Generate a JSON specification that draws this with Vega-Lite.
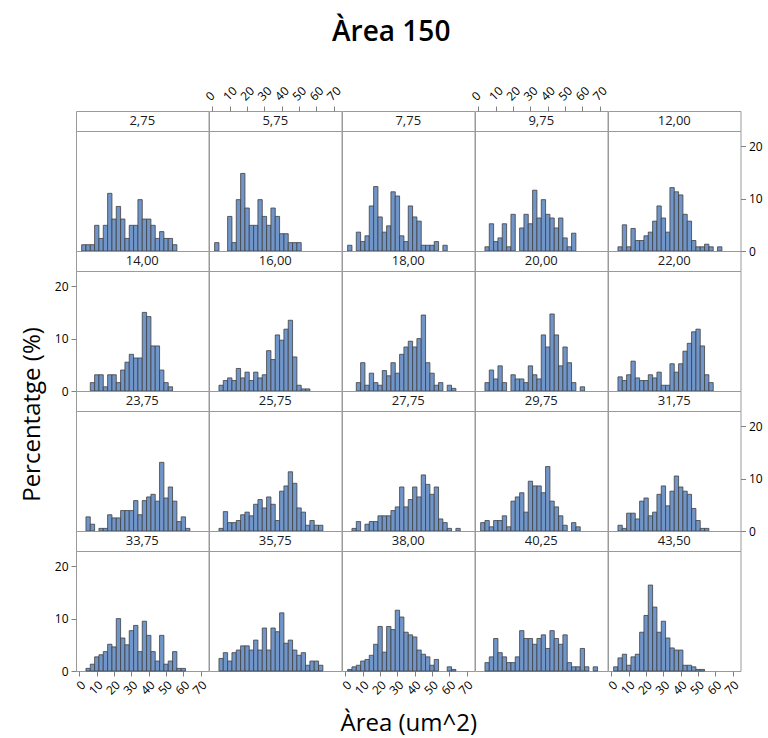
{
"$schema": "https://vega.github.io/schema/vega-lite/v6.json",
"padding": {"left": 19, "top": 18, "right": 5, "bottom": 5},
"title": {"text": "Àrea 150", "fontSize": 28, "fontWeight": 600, "font": "Open Sans", "color": "#000000", "anchor": "middle", "offset": 37},
"columns": 5,
"spacing": 0,
"bounds": "flush",
"config": {
  "view": {"stroke": "#9a9a9a", "strokeWidth": 1},
  "font": "Open Sans",
  "axis": {"labelFont": "Open Sans", "labelFontSize": 12, "labelColor": "#000000", "tickColor": "#808080", "domain": false, "grid": false, "tickSize": 5, "labelPadding": 3, "labelOverlap": false, "titleFont": "Open Sans", "titleColor": "#000000", "titleFontWeight": "normal"},
  "rect": {"fill": "#7095c9", "stroke": "#404040", "strokeWidth": 0.8},
  "text": {"fontSize": 13, "font": "Open Sans", "color": "#1a1a1a"}
},
"concat": [
{"width":132.5,"height":20,"data":{"values":[{"p":"2,75"}]},"mark":"text","encoding":{"text":{"field":"p"},"x":{"datum":36.25,"type":"quantitative","scale":{"domain":[-2,74.5],"nice":false,"zero":false},"axis":null}}},
{"width":132.5,"height":20,"data":{"values":[{"p":"5,75"}]},"mark":"text","encoding":{"text":{"field":"p"},"x":{"datum":36.25,"type":"quantitative","scale":{"domain":[-2,74.5],"nice":false,"zero":false},"axis":{"orient":"top","values":[0,10,20,30,40,50,60,70],"labelAngle":-45,"title":null}}}},
{"width":132.5,"height":20,"data":{"values":[{"p":"7,75"}]},"mark":"text","encoding":{"text":{"field":"p"},"x":{"datum":36.25,"type":"quantitative","scale":{"domain":[-2,74.5],"nice":false,"zero":false},"axis":null}}},
{"width":132.5,"height":20,"data":{"values":[{"p":"9,75"}]},"mark":"text","encoding":{"text":{"field":"p"},"x":{"datum":36.25,"type":"quantitative","scale":{"domain":[-2,74.5],"nice":false,"zero":false},"axis":{"orient":"top","values":[0,10,20,30,40,50,60,70],"labelAngle":-45,"title":null}}}},
{"width":132.5,"height":20,"data":{"values":[{"p":"12,00"}]},"mark":"text","encoding":{"text":{"field":"p"},"x":{"datum":36.25,"type":"quantitative","scale":{"domain":[-2,74.5],"nice":false,"zero":false},"axis":null}}},

{"width":132.5,"height":120,"data":{"values":[
{"lo":1.25,"hi":3.75,"v":1.2},{"lo":3.75,"hi":6.25,"v":1.2},{"lo":6.25,"hi":8.75,"v":1.2},{"lo":8.75,"hi":11.25,"v":4.9},{"lo":11.25,"hi":13.75,"v":2.4},{"lo":13.75,"hi":16.25,"v":4.9},{"lo":16.25,"hi":18.75,"v":11.0},{"lo":18.75,"hi":21.25,"v":6.1},{"lo":21.25,"hi":23.75,"v":8.5},{"lo":23.75,"hi":26.25,"v":6.1},{"lo":26.25,"hi":28.75,"v":2.4},{"lo":28.75,"hi":31.25,"v":4.9},{"lo":31.25,"hi":33.75,"v":4.9},{"lo":33.75,"hi":36.25,"v":9.8},{"lo":36.25,"hi":38.75,"v":6.1},{"lo":38.75,"hi":41.25,"v":6.1},{"lo":41.25,"hi":43.75,"v":4.9},{"lo":43.75,"hi":46.25,"v":2.4},{"lo":46.25,"hi":48.75,"v":3.7},{"lo":48.75,"hi":51.25,"v":2.4},{"lo":51.25,"hi":53.75,"v":2.4},{"lo":53.75,"hi":56.25,"v":1.2}
]},"mark":"rect","encoding":{"x":{"field":"lo","type":"quantitative","scale":{"domain":[-2,74.5],"nice":false,"zero":false},"axis":null},"x2":{"field":"hi"},"y":{"field":"v","type":"quantitative","scale":{"domain":[0,22.9],"nice":false},"axis":null},"y2":{"datum":0}}},

{"width":132.5,"height":120,"data":{"values":[
{"lo":1.25,"hi":3.75,"v":1.6},{"lo":8.75,"hi":11.25,"v":6.6},{"lo":11.25,"hi":13.75,"v":1.6},{"lo":13.75,"hi":16.25,"v":9.8},{"lo":16.25,"hi":18.75,"v":14.8},{"lo":18.75,"hi":21.25,"v":8.2},{"lo":21.25,"hi":23.75,"v":4.9},{"lo":23.75,"hi":26.25,"v":4.9},{"lo":26.25,"hi":28.75,"v":9.8},{"lo":28.75,"hi":31.25,"v":6.6},{"lo":31.25,"hi":33.75,"v":4.9},{"lo":33.75,"hi":36.25,"v":8.2},{"lo":36.25,"hi":38.75,"v":6.6},{"lo":38.75,"hi":41.25,"v":3.3},{"lo":41.25,"hi":43.75,"v":3.3},{"lo":43.75,"hi":46.25,"v":1.6},{"lo":46.25,"hi":48.75,"v":1.6},{"lo":48.75,"hi":51.25,"v":1.6}
]},"mark":"rect","encoding":{"x":{"field":"lo","type":"quantitative","scale":{"domain":[-2,74.5],"nice":false,"zero":false},"axis":null},"x2":{"field":"hi"},"y":{"field":"v","type":"quantitative","scale":{"domain":[0,22.9],"nice":false},"axis":null},"y2":{"datum":0}}},

{"width":132.5,"height":120,"data":{"values":[
{"lo":1.25,"hi":3.75,"v":1.1},{"lo":6.25,"hi":8.75,"v":3.6},{"lo":8.75,"hi":11.25,"v":1.8},{"lo":11.25,"hi":13.75,"v":2.9},{"lo":13.75,"hi":16.25,"v":8.6},{"lo":16.25,"hi":18.75,"v":12.3},{"lo":18.75,"hi":21.25,"v":6.5},{"lo":21.25,"hi":23.75,"v":3.6},{"lo":23.75,"hi":26.25,"v":4.8},{"lo":26.25,"hi":28.75,"v":11.3},{"lo":28.75,"hi":31.25,"v":10.5},{"lo":31.25,"hi":33.75,"v":2.9},{"lo":33.75,"hi":36.25,"v":1.8},{"lo":36.25,"hi":38.75,"v":8.6},{"lo":38.75,"hi":41.25,"v":6.5},{"lo":41.25,"hi":43.75,"v":5.7},{"lo":43.75,"hi":46.25,"v":1.1},{"lo":46.25,"hi":48.75,"v":1.1},{"lo":48.75,"hi":51.25,"v":1.1},{"lo":51.25,"hi":53.75,"v":1.8},{"lo":56.25,"hi":58.75,"v":1.1}
]},"mark":"rect","encoding":{"x":{"field":"lo","type":"quantitative","scale":{"domain":[-2,74.5],"nice":false,"zero":false},"axis":null},"x2":{"field":"hi"},"y":{"field":"v","type":"quantitative","scale":{"domain":[0,22.9],"nice":false},"axis":null},"y2":{"datum":0}}},

{"width":132.5,"height":120,"data":{"values":[
{"lo":3.75,"hi":6.25,"v":0.8},{"lo":6.25,"hi":8.75,"v":5.2},{"lo":8.75,"hi":11.25,"v":1.8},{"lo":11.25,"hi":13.75,"v":2.5},{"lo":13.75,"hi":16.25,"v":5.2},{"lo":16.25,"hi":18.75,"v":0.8},{"lo":18.75,"hi":21.25,"v":7.0},{"lo":23.75,"hi":26.25,"v":4.4},{"lo":26.25,"hi":28.75,"v":7.0},{"lo":28.75,"hi":31.25,"v":5.2},{"lo":31.25,"hi":33.75,"v":11.6},{"lo":33.75,"hi":36.25,"v":6.3},{"lo":36.25,"hi":38.75,"v":9.8},{"lo":38.75,"hi":41.25,"v":7.0},{"lo":41.25,"hi":43.75,"v":6.3},{"lo":43.75,"hi":46.25,"v":4.4},{"lo":46.25,"hi":48.75,"v":6.3},{"lo":48.75,"hi":51.25,"v":2.5},{"lo":51.25,"hi":53.75,"v":0.8},{"lo":53.75,"hi":56.25,"v":3.4}
]},"mark":"rect","encoding":{"x":{"field":"lo","type":"quantitative","scale":{"domain":[-2,74.5],"nice":false,"zero":false},"axis":null},"x2":{"field":"hi"},"y":{"field":"v","type":"quantitative","scale":{"domain":[0,22.9],"nice":false},"axis":null},"y2":{"datum":0}}},

{"width":132.5,"height":120,"data":{"values":[
{"lo":3.75,"hi":6.25,"v":0.8},{"lo":6.25,"hi":8.75,"v":5.0},{"lo":8.75,"hi":11.25,"v":0.8},{"lo":11.25,"hi":13.75,"v":4.3},{"lo":13.75,"hi":16.25,"v":2.0},{"lo":16.25,"hi":18.75,"v":2.0},{"lo":18.75,"hi":21.25,"v":2.9},{"lo":21.25,"hi":23.75,"v":3.6},{"lo":23.75,"hi":26.25,"v":5.7},{"lo":26.25,"hi":28.75,"v":8.6},{"lo":28.75,"hi":31.25,"v":6.3},{"lo":31.25,"hi":33.75,"v":3.6},{"lo":33.75,"hi":36.25,"v":12.1},{"lo":36.25,"hi":38.75,"v":11.3},{"lo":38.75,"hi":41.25,"v":10.7},{"lo":41.25,"hi":43.75,"v":7.0},{"lo":43.75,"hi":46.25,"v":5.7},{"lo":46.25,"hi":48.75,"v":2.0},{"lo":48.75,"hi":51.25,"v":0.8},{"lo":51.25,"hi":53.75,"v":0.8},{"lo":53.75,"hi":56.25,"v":1.3},{"lo":56.25,"hi":58.75,"v":0.8},{"lo":61.25,"hi":63.75,"v":0.8}
]},"mark":"rect","encoding":{"x":{"field":"lo","type":"quantitative","scale":{"domain":[-2,74.5],"nice":false,"zero":false},"axis":null},"x2":{"field":"hi"},"y":{"field":"v","type":"quantitative","scale":{"domain":[0,22.9],"nice":false},"axis":{"orient":"right","values":[0,10,20],"title":null}},"y2":{"datum":0}}},

{"width":132.5,"height":20,"data":{"values":[{"p":"14,00"}]},"mark":"text","encoding":{"text":{"field":"p"},"x":{"datum":36.25,"type":"quantitative","scale":{"domain":[-2,74.5],"nice":false,"zero":false},"axis":null}}},
{"width":132.5,"height":20,"data":{"values":[{"p":"16,00"}]},"mark":"text","encoding":{"text":{"field":"p"},"x":{"datum":36.25,"type":"quantitative","scale":{"domain":[-2,74.5],"nice":false,"zero":false},"axis":null}}},
{"width":132.5,"height":20,"data":{"values":[{"p":"18,00"}]},"mark":"text","encoding":{"text":{"field":"p"},"x":{"datum":36.25,"type":"quantitative","scale":{"domain":[-2,74.5],"nice":false,"zero":false},"axis":null}}},
{"width":132.5,"height":20,"data":{"values":[{"p":"20,00"}]},"mark":"text","encoding":{"text":{"field":"p"},"x":{"datum":36.25,"type":"quantitative","scale":{"domain":[-2,74.5],"nice":false,"zero":false},"axis":null}}},
{"width":132.5,"height":20,"data":{"values":[{"p":"22,00"}]},"mark":"text","encoding":{"text":{"field":"p"},"x":{"datum":36.25,"type":"quantitative","scale":{"domain":[-2,74.5],"nice":false,"zero":false},"axis":null}}},

{"width":132.5,"height":120,"data":{"values":[
{"lo":6.25,"hi":8.75,"v":1.6},{"lo":8.75,"hi":11.25,"v":3.1},{"lo":11.25,"hi":13.75,"v":3.1},{"lo":13.75,"hi":16.25,"v":0.8},{"lo":16.25,"hi":18.75,"v":3.1},{"lo":18.75,"hi":21.25,"v":3.1},{"lo":21.25,"hi":23.75,"v":1.6},{"lo":23.75,"hi":26.25,"v":4.0},{"lo":26.25,"hi":28.75,"v":5.5},{"lo":28.75,"hi":31.25,"v":7.0},{"lo":31.25,"hi":33.75,"v":6.3},{"lo":33.75,"hi":36.25,"v":6.3},{"lo":36.25,"hi":38.75,"v":15.0},{"lo":38.75,"hi":41.25,"v":14.2},{"lo":41.25,"hi":43.75,"v":8.6},{"lo":43.75,"hi":46.25,"v":8.6},{"lo":46.25,"hi":48.75,"v":4.0},{"lo":48.75,"hi":51.25,"v":1.6},{"lo":51.25,"hi":53.75,"v":0.8}
]},"mark":"rect","encoding":{"x":{"field":"lo","type":"quantitative","scale":{"domain":[-2,74.5],"nice":false,"zero":false},"axis":null},"x2":{"field":"hi"},"y":{"field":"v","type":"quantitative","scale":{"domain":[0,22.9],"nice":false},"axis":{"orient":"left","values":[0,10,20],"title":"Percentatge (%)","titleFontSize":24,"titleY":143,"titlePadding":10}},"y2":{"datum":0}}},

{"width":132.5,"height":120,"data":{"values":[
{"lo":3.75,"hi":6.25,"v":1.1},{"lo":6.25,"hi":8.75,"v":2.0},{"lo":8.75,"hi":11.25,"v":2.5},{"lo":11.25,"hi":13.75,"v":2.0},{"lo":13.75,"hi":16.25,"v":4.3},{"lo":16.25,"hi":18.75,"v":2.5},{"lo":18.75,"hi":21.25,"v":3.6},{"lo":21.25,"hi":23.75,"v":2.0},{"lo":23.75,"hi":26.25,"v":3.6},{"lo":26.25,"hi":28.75,"v":2.5},{"lo":28.75,"hi":31.25,"v":3.1},{"lo":31.25,"hi":33.75,"v":7.7},{"lo":33.75,"hi":36.25,"v":6.0},{"lo":36.25,"hi":38.75,"v":10.7},{"lo":38.75,"hi":41.25,"v":9.7},{"lo":41.25,"hi":43.75,"v":11.8},{"lo":43.75,"hi":46.25,"v":13.5},{"lo":46.25,"hi":48.75,"v":6.5},{"lo":48.75,"hi":51.25,"v":1.1},{"lo":51.25,"hi":53.75,"v":0.4},{"lo":53.75,"hi":56.25,"v":0.4}
]},"mark":"rect","encoding":{"x":{"field":"lo","type":"quantitative","scale":{"domain":[-2,74.5],"nice":false,"zero":false},"axis":null},"x2":{"field":"hi"},"y":{"field":"v","type":"quantitative","scale":{"domain":[0,22.9],"nice":false},"axis":null},"y2":{"datum":0}}},

{"width":132.5,"height":120,"data":{"values":[
{"lo":6.25,"hi":8.75,"v":1.6},{"lo":8.75,"hi":11.25,"v":5.4},{"lo":11.25,"hi":13.75,"v":1.1},{"lo":13.75,"hi":16.25,"v":3.4},{"lo":16.25,"hi":18.75,"v":1.6},{"lo":18.75,"hi":21.25,"v":1.1},{"lo":21.25,"hi":23.75,"v":3.9},{"lo":23.75,"hi":26.25,"v":2.9},{"lo":26.25,"hi":28.75,"v":5.4},{"lo":28.75,"hi":31.25,"v":3.4},{"lo":31.25,"hi":33.75,"v":7.0},{"lo":33.75,"hi":36.25,"v":8.4},{"lo":36.25,"hi":38.75,"v":9.5},{"lo":38.75,"hi":41.25,"v":8.4},{"lo":41.25,"hi":43.75,"v":10.0},{"lo":43.75,"hi":46.25,"v":14.5},{"lo":46.25,"hi":48.75,"v":5.4},{"lo":48.75,"hi":51.25,"v":3.4},{"lo":51.25,"hi":53.75,"v":1.1},{"lo":53.75,"hi":56.25,"v":1.6},{"lo":58.75,"hi":61.25,"v":1.1},{"lo":61.25,"hi":63.75,"v":0.5}
]},"mark":"rect","encoding":{"x":{"field":"lo","type":"quantitative","scale":{"domain":[-2,74.5],"nice":false,"zero":false},"axis":null},"x2":{"field":"hi"},"y":{"field":"v","type":"quantitative","scale":{"domain":[0,22.9],"nice":false},"axis":null},"y2":{"datum":0}}},

{"width":132.5,"height":120,"data":{"values":[
{"lo":3.75,"hi":6.25,"v":1.6},{"lo":6.25,"hi":8.75,"v":4.0},{"lo":8.75,"hi":11.25,"v":2.3},{"lo":11.25,"hi":13.75,"v":4.8},{"lo":13.75,"hi":16.25,"v":1.6},{"lo":18.75,"hi":21.25,"v":3.1},{"lo":21.25,"hi":23.75,"v":2.3},{"lo":23.75,"hi":26.25,"v":2.3},{"lo":26.25,"hi":28.75,"v":1.6},{"lo":28.75,"hi":31.25,"v":4.8},{"lo":31.25,"hi":33.75,"v":3.1},{"lo":33.75,"hi":36.25,"v":2.3},{"lo":36.25,"hi":38.75,"v":10.7},{"lo":38.75,"hi":41.25,"v":8.4},{"lo":41.25,"hi":43.75,"v":14.7},{"lo":43.75,"hi":46.25,"v":10.7},{"lo":46.25,"hi":48.75,"v":4.8},{"lo":48.75,"hi":51.25,"v":8.4},{"lo":51.25,"hi":53.75,"v":5.4},{"lo":53.75,"hi":56.25,"v":1.6},{"lo":58.75,"hi":61.25,"v":0.8}
]},"mark":"rect","encoding":{"x":{"field":"lo","type":"quantitative","scale":{"domain":[-2,74.5],"nice":false,"zero":false},"axis":null},"x2":{"field":"hi"},"y":{"field":"v","type":"quantitative","scale":{"domain":[0,22.9],"nice":false},"axis":null},"y2":{"datum":0}}},

{"width":132.5,"height":120,"data":{"values":[
{"lo":3.75,"hi":6.25,"v":2.7},{"lo":6.25,"hi":8.75,"v":2.0},{"lo":8.75,"hi":11.25,"v":3.1},{"lo":11.25,"hi":13.75,"v":5.7},{"lo":13.75,"hi":16.25,"v":2.5},{"lo":16.25,"hi":18.75,"v":2.0},{"lo":18.75,"hi":21.25,"v":2.0},{"lo":21.25,"hi":23.75,"v":3.1},{"lo":23.75,"hi":26.25,"v":2.5},{"lo":26.25,"hi":28.75,"v":3.6},{"lo":28.75,"hi":31.25,"v":1.1},{"lo":31.25,"hi":33.75,"v":1.1},{"lo":33.75,"hi":36.25,"v":5.2},{"lo":36.25,"hi":38.75,"v":3.6},{"lo":38.75,"hi":41.25,"v":5.2},{"lo":41.25,"hi":43.75,"v":7.6},{"lo":43.75,"hi":46.25,"v":9.1},{"lo":46.25,"hi":48.75,"v":11.3},{"lo":48.75,"hi":51.25,"v":11.8},{"lo":51.25,"hi":53.75,"v":8.6},{"lo":53.75,"hi":56.25,"v":3.1},{"lo":56.25,"hi":58.75,"v":1.6}
]},"mark":"rect","encoding":{"x":{"field":"lo","type":"quantitative","scale":{"domain":[-2,74.5],"nice":false,"zero":false},"axis":null},"x2":{"field":"hi"},"y":{"field":"v","type":"quantitative","scale":{"domain":[0,22.9],"nice":false},"axis":null},"y2":{"datum":0}}},

{"width":132.5,"height":20,"data":{"values":[{"p":"23,75"}]},"mark":"text","encoding":{"text":{"field":"p"},"x":{"datum":36.25,"type":"quantitative","scale":{"domain":[-2,74.5],"nice":false,"zero":false},"axis":null}}},
{"width":132.5,"height":20,"data":{"values":[{"p":"25,75"}]},"mark":"text","encoding":{"text":{"field":"p"},"x":{"datum":36.25,"type":"quantitative","scale":{"domain":[-2,74.5],"nice":false,"zero":false},"axis":null}}},
{"width":132.5,"height":20,"data":{"values":[{"p":"27,75"}]},"mark":"text","encoding":{"text":{"field":"p"},"x":{"datum":36.25,"type":"quantitative","scale":{"domain":[-2,74.5],"nice":false,"zero":false},"axis":null}}},
{"width":132.5,"height":20,"data":{"values":[{"p":"29,75"}]},"mark":"text","encoding":{"text":{"field":"p"},"x":{"datum":36.25,"type":"quantitative","scale":{"domain":[-2,74.5],"nice":false,"zero":false},"axis":null}}},
{"width":132.5,"height":20,"data":{"values":[{"p":"31,75"}]},"mark":"text","encoding":{"text":{"field":"p"},"x":{"datum":36.25,"type":"quantitative","scale":{"domain":[-2,74.5],"nice":false,"zero":false},"axis":null}}},

{"width":132.5,"height":120,"data":{"values":[
{"lo":3.75,"hi":6.25,"v":2.7},{"lo":6.25,"hi":8.75,"v":1.3},{"lo":11.25,"hi":13.75,"v":0.5},{"lo":13.75,"hi":16.25,"v":0.5},{"lo":16.25,"hi":18.75,"v":3.1},{"lo":18.75,"hi":21.25,"v":2.5},{"lo":21.25,"hi":23.75,"v":2.5},{"lo":23.75,"hi":26.25,"v":3.9},{"lo":26.25,"hi":28.75,"v":3.9},{"lo":28.75,"hi":31.25,"v":3.9},{"lo":31.25,"hi":33.75,"v":5.8},{"lo":33.75,"hi":36.25,"v":3.1},{"lo":36.25,"hi":38.75,"v":5.8},{"lo":38.75,"hi":41.25,"v":6.5},{"lo":41.25,"hi":43.75,"v":7.0},{"lo":43.75,"hi":46.25,"v":5.7},{"lo":46.25,"hi":48.75,"v":13.1},{"lo":48.75,"hi":51.25,"v":6.3},{"lo":51.25,"hi":53.75,"v":8.4},{"lo":53.75,"hi":56.25,"v":5.7},{"lo":56.25,"hi":58.75,"v":1.8},{"lo":58.75,"hi":61.25,"v":2.7},{"lo":61.25,"hi":63.75,"v":0.5}
]},"mark":"rect","encoding":{"x":{"field":"lo","type":"quantitative","scale":{"domain":[-2,74.5],"nice":false,"zero":false},"axis":null},"x2":{"field":"hi"},"y":{"field":"v","type":"quantitative","scale":{"domain":[0,22.9],"nice":false},"axis":null},"y2":{"datum":0}}},

{"width":132.5,"height":120,"data":{"values":[
{"lo":3.75,"hi":6.25,"v":0.5},{"lo":6.25,"hi":8.75,"v":3.7},{"lo":8.75,"hi":11.25,"v":1.6},{"lo":11.25,"hi":13.75,"v":1.6},{"lo":13.75,"hi":16.25,"v":2.0},{"lo":16.25,"hi":18.75,"v":3.1},{"lo":18.75,"hi":21.25,"v":3.6},{"lo":21.25,"hi":23.75,"v":2.9},{"lo":23.75,"hi":26.25,"v":5.1},{"lo":26.25,"hi":28.75,"v":6.0},{"lo":28.75,"hi":31.25,"v":4.4},{"lo":31.25,"hi":33.75,"v":6.5},{"lo":33.75,"hi":36.25,"v":5.1},{"lo":36.25,"hi":38.75,"v":2.0},{"lo":38.75,"hi":41.25,"v":7.6},{"lo":41.25,"hi":43.75,"v":8.6},{"lo":43.75,"hi":46.25,"v":11.3},{"lo":46.25,"hi":48.75,"v":9.1},{"lo":48.75,"hi":51.25,"v":4.4},{"lo":51.25,"hi":53.75,"v":3.6},{"lo":53.75,"hi":56.25,"v":1.1},{"lo":56.25,"hi":58.75,"v":2.0},{"lo":58.75,"hi":61.25,"v":1.1},{"lo":61.25,"hi":63.75,"v":1.1}
]},"mark":"rect","encoding":{"x":{"field":"lo","type":"quantitative","scale":{"domain":[-2,74.5],"nice":false,"zero":false},"axis":null},"x2":{"field":"hi"},"y":{"field":"v","type":"quantitative","scale":{"domain":[0,22.9],"nice":false},"axis":null},"y2":{"datum":0}}},

{"width":132.5,"height":120,"data":{"values":[
{"lo":3.75,"hi":6.25,"v":0.5},{"lo":6.25,"hi":8.75,"v":1.8},{"lo":11.25,"hi":13.75,"v":1.3},{"lo":13.75,"hi":16.25,"v":1.8},{"lo":16.25,"hi":18.75,"v":1.8},{"lo":18.75,"hi":21.25,"v":2.9},{"lo":21.25,"hi":23.75,"v":2.9},{"lo":23.75,"hi":26.25,"v":2.9},{"lo":26.25,"hi":28.75,"v":3.9},{"lo":28.75,"hi":31.25,"v":4.6},{"lo":31.25,"hi":33.75,"v":8.4},{"lo":33.75,"hi":36.25,"v":4.6},{"lo":36.25,"hi":38.75,"v":6.0},{"lo":38.75,"hi":41.25,"v":8.4},{"lo":41.25,"hi":43.75,"v":6.5},{"lo":43.75,"hi":46.25,"v":10.7},{"lo":46.25,"hi":48.75,"v":8.9},{"lo":48.75,"hi":51.25,"v":7.0},{"lo":51.25,"hi":53.75,"v":8.4},{"lo":53.75,"hi":56.25,"v":2.3},{"lo":56.25,"hi":58.75,"v":1.6},{"lo":58.75,"hi":61.25,"v":0.5},{"lo":63.75,"hi":66.25,"v":0.5}
]},"mark":"rect","encoding":{"x":{"field":"lo","type":"quantitative","scale":{"domain":[-2,74.5],"nice":false,"zero":false},"axis":null},"x2":{"field":"hi"},"y":{"field":"v","type":"quantitative","scale":{"domain":[0,22.9],"nice":false},"axis":null},"y2":{"datum":0}}},

{"width":132.5,"height":120,"data":{"values":[
{"lo":1.25,"hi":3.75,"v":1.6},{"lo":3.75,"hi":6.25,"v":2.0},{"lo":6.25,"hi":8.75,"v":0.8},{"lo":8.75,"hi":11.25,"v":2.0},{"lo":11.25,"hi":13.75,"v":2.0},{"lo":13.75,"hi":16.25,"v":2.9},{"lo":16.25,"hi":18.75,"v":0.8},{"lo":18.75,"hi":21.25,"v":5.7},{"lo":21.25,"hi":23.75,"v":6.5},{"lo":23.75,"hi":26.25,"v":7.3},{"lo":26.25,"hi":28.75,"v":3.6},{"lo":28.75,"hi":31.25,"v":9.5},{"lo":31.25,"hi":33.75,"v":8.6},{"lo":33.75,"hi":36.25,"v":8.6},{"lo":36.25,"hi":38.75,"v":7.3},{"lo":38.75,"hi":41.25,"v":12.3},{"lo":41.25,"hi":43.75,"v":5.7},{"lo":43.75,"hi":46.25,"v":4.6},{"lo":46.25,"hi":48.75,"v":2.9},{"lo":48.75,"hi":51.25,"v":1.1},{"lo":53.75,"hi":56.25,"v":1.6},{"lo":56.25,"hi":58.75,"v":0.8}
]},"mark":"rect","encoding":{"x":{"field":"lo","type":"quantitative","scale":{"domain":[-2,74.5],"nice":false,"zero":false},"axis":null},"x2":{"field":"hi"},"y":{"field":"v","type":"quantitative","scale":{"domain":[0,22.9],"nice":false},"axis":null},"y2":{"datum":0}}},

{"width":132.5,"height":120,"data":{"values":[
{"lo":3.75,"hi":6.25,"v":1.1},{"lo":6.25,"hi":8.75,"v":0.5},{"lo":8.75,"hi":11.25,"v":3.4},{"lo":11.25,"hi":13.75,"v":3.4},{"lo":13.75,"hi":16.25,"v":2.3},{"lo":16.25,"hi":18.75,"v":5.7},{"lo":18.75,"hi":21.25,"v":6.3},{"lo":21.25,"hi":23.75,"v":2.9},{"lo":23.75,"hi":26.25,"v":3.6},{"lo":26.25,"hi":28.75,"v":7.0},{"lo":28.75,"hi":31.25,"v":8.6},{"lo":31.25,"hi":33.75,"v":4.8},{"lo":33.75,"hi":36.25,"v":7.6},{"lo":36.25,"hi":38.75,"v":10.5},{"lo":38.75,"hi":41.25,"v":8.4},{"lo":41.25,"hi":43.75,"v":7.6},{"lo":43.75,"hi":46.25,"v":7.0},{"lo":46.25,"hi":48.75,"v":4.3},{"lo":48.75,"hi":51.25,"v":2.0},{"lo":51.25,"hi":53.75,"v":0.5},{"lo":53.75,"hi":56.25,"v":0.5}
]},"mark":"rect","encoding":{"x":{"field":"lo","type":"quantitative","scale":{"domain":[-2,74.5],"nice":false,"zero":false},"axis":null},"x2":{"field":"hi"},"y":{"field":"v","type":"quantitative","scale":{"domain":[0,22.9],"nice":false},"axis":{"orient":"right","values":[0,10,20],"title":null}},"y2":{"datum":0}}},

{"width":132.5,"height":20,"data":{"values":[{"p":"33,75"}]},"mark":"text","encoding":{"text":{"field":"p"},"x":{"datum":36.25,"type":"quantitative","scale":{"domain":[-2,74.5],"nice":false,"zero":false},"axis":null}}},
{"width":132.5,"height":20,"data":{"values":[{"p":"35,75"}]},"mark":"text","encoding":{"text":{"field":"p"},"x":{"datum":36.25,"type":"quantitative","scale":{"domain":[-2,74.5],"nice":false,"zero":false},"axis":null}}},
{"width":132.5,"height":20,"data":{"values":[{"p":"38,00"}]},"mark":"text","encoding":{"text":{"field":"p"},"x":{"datum":36.25,"type":"quantitative","scale":{"domain":[-2,74.5],"nice":false,"zero":false},"axis":null}}},
{"width":132.5,"height":20,"data":{"values":[{"p":"40,25"}]},"mark":"text","encoding":{"text":{"field":"p"},"x":{"datum":36.25,"type":"quantitative","scale":{"domain":[-2,74.5],"nice":false,"zero":false},"axis":null}}},
{"width":132.5,"height":20,"data":{"values":[{"p":"43,50"}]},"mark":"text","encoding":{"text":{"field":"p"},"x":{"datum":36.25,"type":"quantitative","scale":{"domain":[-2,74.5],"nice":false,"zero":false},"axis":null}}},

{"width":132.5,"height":120,"data":{"values":[
{"lo":3.75,"hi":6.25,"v":0.5},{"lo":6.25,"hi":8.75,"v":1.3},{"lo":8.75,"hi":11.25,"v":2.7},{"lo":11.25,"hi":13.75,"v":3.1},{"lo":13.75,"hi":16.25,"v":3.7},{"lo":16.25,"hi":18.75,"v":5.1},{"lo":18.75,"hi":21.25,"v":4.6},{"lo":21.25,"hi":23.75,"v":10.0},{"lo":23.75,"hi":26.25,"v":6.3},{"lo":26.25,"hi":28.75,"v":5.0},{"lo":28.75,"hi":31.25,"v":7.7},{"lo":31.25,"hi":33.75,"v":8.7},{"lo":33.75,"hi":36.25,"v":3.7},{"lo":36.25,"hi":38.75,"v":9.5},{"lo":38.75,"hi":41.25,"v":6.8},{"lo":41.25,"hi":43.75,"v":3.7},{"lo":43.75,"hi":46.25,"v":1.9},{"lo":46.25,"hi":48.75,"v":6.8},{"lo":48.75,"hi":51.25,"v":1.3},{"lo":51.25,"hi":53.75,"v":1.9},{"lo":53.75,"hi":56.25,"v":3.7},{"lo":56.25,"hi":58.75,"v":0.5},{"lo":58.75,"hi":61.25,"v":0.5}
]},"mark":"rect","encoding":{"x":{"field":"lo","type":"quantitative","scale":{"domain":[-2,74.5],"nice":false,"zero":false},"axis":{"orient":"bottom","values":[0,10,20,30,40,50,60,70],"labelAngle":-45,"title":null}},"x2":{"field":"hi"},"y":{"field":"v","type":"quantitative","scale":{"domain":[0,22.9],"nice":false},"axis":{"orient":"left","values":[0,10,20],"title":null}},"y2":{"datum":0}}},

{"width":132.5,"height":120,"data":{"values":[
{"lo":3.75,"hi":6.25,"v":2.4},{"lo":6.25,"hi":8.75,"v":3.5},{"lo":8.75,"hi":11.25,"v":1.9},{"lo":11.25,"hi":13.75,"v":3.5},{"lo":13.75,"hi":16.25,"v":4.0},{"lo":16.25,"hi":18.75,"v":4.8},{"lo":18.75,"hi":21.25,"v":4.8},{"lo":21.25,"hi":23.75,"v":4.0},{"lo":23.75,"hi":26.25,"v":5.9},{"lo":26.25,"hi":28.75,"v":4.0},{"lo":28.75,"hi":31.25,"v":8.2},{"lo":31.25,"hi":33.75,"v":4.0},{"lo":33.75,"hi":36.25,"v":8.2},{"lo":36.25,"hi":38.75,"v":7.5},{"lo":38.75,"hi":41.25,"v":11.1},{"lo":41.25,"hi":43.75,"v":5.3},{"lo":43.75,"hi":46.25,"v":5.9},{"lo":46.25,"hi":48.75,"v":4.0},{"lo":48.75,"hi":51.25,"v":3.0},{"lo":51.25,"hi":53.75,"v":3.5},{"lo":53.75,"hi":56.25,"v":1.1},{"lo":56.25,"hi":58.75,"v":1.9},{"lo":58.75,"hi":61.25,"v":1.9},{"lo":61.25,"hi":63.75,"v":1.1}
]},"mark":"rect","encoding":{"x":{"field":"lo","type":"quantitative","scale":{"domain":[-2,74.5],"nice":false,"zero":false},"axis":null},"x2":{"field":"hi"},"y":{"field":"v","type":"quantitative","scale":{"domain":[0,22.9],"nice":false},"axis":null},"y2":{"datum":0}}},

{"width":132.5,"height":120,"data":{"values":[
{"lo":1.25,"hi":3.75,"v":0.3},{"lo":3.75,"hi":6.25,"v":0.8},{"lo":6.25,"hi":8.75,"v":1.1},{"lo":8.75,"hi":11.25,"v":1.9},{"lo":11.25,"hi":13.75,"v":2.2},{"lo":13.75,"hi":16.25,"v":3.0},{"lo":16.25,"hi":18.75,"v":5.1},{"lo":18.75,"hi":21.25,"v":8.5},{"lo":21.25,"hi":23.75,"v":3.6},{"lo":23.75,"hi":26.25,"v":8.5},{"lo":26.25,"hi":28.75,"v":7.9},{"lo":28.75,"hi":31.25,"v":11.6},{"lo":31.25,"hi":33.75,"v":10.3},{"lo":33.75,"hi":36.25,"v":7.4},{"lo":36.25,"hi":38.75,"v":6.9},{"lo":38.75,"hi":41.25,"v":6.5},{"lo":41.25,"hi":43.75,"v":4.0},{"lo":43.75,"hi":46.25,"v":3.2},{"lo":46.25,"hi":48.75,"v":2.7},{"lo":48.75,"hi":51.25,"v":1.1},{"lo":51.25,"hi":53.75,"v":2.2},{"lo":58.75,"hi":61.25,"v":0.8},{"lo":61.25,"hi":63.75,"v":0.3}
]},"mark":"rect","encoding":{"x":{"field":"lo","type":"quantitative","scale":{"domain":[-2,74.5],"nice":false,"zero":false},"axis":{"orient":"bottom","values":[0,10,20,30,40,50,60,70],"labelAngle":-45,"title":"Àrea (um^2)","titleFontSize":24,"titlePadding":15}},"x2":{"field":"hi"},"y":{"field":"v","type":"quantitative","scale":{"domain":[0,22.9],"nice":false},"axis":null},"y2":{"datum":0}}},

{"width":132.5,"height":120,"data":{"values":[
{"lo":3.75,"hi":6.25,"v":1.6},{"lo":6.25,"hi":8.75,"v":2.7},{"lo":8.75,"hi":11.25,"v":6.2},{"lo":11.25,"hi":13.75,"v":3.5},{"lo":13.75,"hi":16.25,"v":2.7},{"lo":16.25,"hi":18.75,"v":1.6},{"lo":18.75,"hi":21.25,"v":1.6},{"lo":21.25,"hi":23.75,"v":2.7},{"lo":23.75,"hi":26.25,"v":7.7},{"lo":26.25,"hi":28.75,"v":6.2},{"lo":28.75,"hi":31.25,"v":6.2},{"lo":31.25,"hi":33.75,"v":5.1},{"lo":33.75,"hi":36.25,"v":6.2},{"lo":36.25,"hi":38.75,"v":6.9},{"lo":38.75,"hi":41.25,"v":4.3},{"lo":41.25,"hi":43.75,"v":7.7},{"lo":43.75,"hi":46.25,"v":6.2},{"lo":46.25,"hi":48.75,"v":5.1},{"lo":48.75,"hi":51.25,"v":6.9},{"lo":51.25,"hi":53.75,"v":1.6},{"lo":53.75,"hi":56.25,"v":0.8},{"lo":56.25,"hi":58.75,"v":0.8},{"lo":58.75,"hi":61.25,"v":4.3},{"lo":61.25,"hi":63.75,"v":0.8},{"lo":66.25,"hi":68.75,"v":0.8}
]},"mark":"rect","encoding":{"x":{"field":"lo","type":"quantitative","scale":{"domain":[-2,74.5],"nice":false,"zero":false},"axis":null},"x2":{"field":"hi"},"y":{"field":"v","type":"quantitative","scale":{"domain":[0,22.9],"nice":false},"axis":null},"y2":{"datum":0}}},

{"width":132.5,"height":120,"data":{"values":[
{"lo":1.25,"hi":3.75,"v":0.8},{"lo":3.75,"hi":6.25,"v":2.5},{"lo":6.25,"hi":8.75,"v":3.2},{"lo":8.75,"hi":11.25,"v":1.1},{"lo":11.25,"hi":13.75,"v":2.7},{"lo":13.75,"hi":16.25,"v":3.2},{"lo":16.25,"hi":18.75,"v":7.4},{"lo":18.75,"hi":21.25,"v":10.6},{"lo":21.25,"hi":23.75,"v":16.4},{"lo":23.75,"hi":26.25,"v":12.2},{"lo":26.25,"hi":28.75,"v":7.4},{"lo":28.75,"hi":31.25,"v":9.5},{"lo":31.25,"hi":33.75,"v":6.3},{"lo":33.75,"hi":36.25,"v":4.4},{"lo":36.25,"hi":38.75,"v":4.0},{"lo":38.75,"hi":41.25,"v":4.0},{"lo":41.25,"hi":43.75,"v":1.1},{"lo":43.75,"hi":46.25,"v":1.1},{"lo":46.25,"hi":48.75,"v":0.8},{"lo":48.75,"hi":51.25,"v":0.3},{"lo":51.25,"hi":53.75,"v":0.3}
]},"mark":"rect","encoding":{"x":{"field":"lo","type":"quantitative","scale":{"domain":[-2,74.5],"nice":false,"zero":false},"axis":{"orient":"bottom","values":[0,10,20,30,40,50,60,70],"labelAngle":-45,"title":null}},"x2":{"field":"hi"},"y":{"field":"v","type":"quantitative","scale":{"domain":[0,22.9],"nice":false},"axis":null},"y2":{"datum":0}}}
]
}
